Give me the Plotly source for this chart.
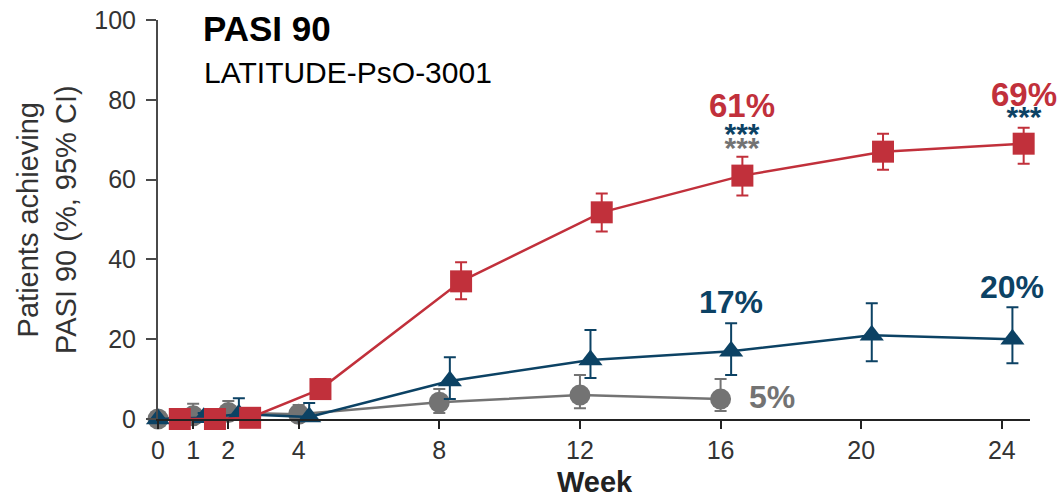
import plotly.graph_objects as go

# Study weeks at which PASI 90 response was assessed
weeks = [0, 1, 2, 4, 8, 12, 16, 20, 24]
weeks_placebo = [0, 1, 2, 4, 8, 12, 16]

# Response rates (%) with 95% CI bounds
deucra_val = [0, 0, 0.3, 7.5, 34.5, 51.8, 61, 67, 69]
deucra_hi = [0, 0, 1.0, 10, 39.3, 56.5, 65.7, 71.5, 73]
deucra_lo = [0, 0, 0, 5.5, 30, 47, 56, 62.5, 64]

apre_val = [0, 0.3, 1.2, 0.5, 9.5, 14.8, 17, 21, 20]
apre_hi = [0, 1.5, 5.2, 4.0, 15.5, 22.3, 24, 29, 28]
apre_lo = [0, 0, 0, 0, 5, 10.3, 11, 14.5, 14]

placebo_val = [0, 0.8, 1.6, 1.2, 4.2, 6, 5]
placebo_hi = [0, 3.8, 4.5, 3.5, 7.5, 11, 10]
placebo_lo = [0, 0, 0, 0, 1.5, 2.7, 2]

RED = "#C1303B"
BLUE = "#0C4264"
GRAY = "#737373"
FONT = "Liberation Sans, Arial, sans-serif"

# horizontal dodge so overlapping groups stay readable
blue_dodge = [0] + [0.3] * (len(weeks) - 1)
red_dodge = 0.62


def err(val, hi, lo):
    return dict(
        type="data",
        array=[h - v for v, h in zip(val, hi)],
        arrayminus=[v - l for v, l in zip(val, lo)],
        thickness=2,
        width=6,
    )


fig = go.Figure()

fig.add_trace(go.Scatter(
    x=weeks_placebo, y=placebo_val, mode="lines+markers",
    line=dict(color=GRAY, width=2.5),
    marker=dict(symbol="circle", size=21, color=GRAY),
    error_y=dict(err(placebo_val, placebo_hi, placebo_lo), color=GRAY),
    cliponaxis=False, showlegend=False,
))

fig.add_trace(go.Scatter(
    x=[w + d for w, d in zip(weeks, blue_dodge)], y=apre_val, mode="lines+markers",
    line=dict(color=BLUE, width=2.5),
    marker=dict(symbol="triangle-up", size=21, color=BLUE),
    error_y=dict(err(apre_val, apre_hi, apre_lo), color=BLUE),
    cliponaxis=False, showlegend=False,
))

fig.add_trace(go.Scatter(
    x=[w + red_dodge for w in weeks], y=deucra_val, mode="lines+markers",
    line=dict(color=RED, width=2.5),
    marker=dict(symbol="square", size=22, color=RED),
    error_y=dict(err(deucra_val, deucra_hi, deucra_lo), color=RED),
    cliponaxis=False, showlegend=False,
))

ann = []


def label(x, y, text, color, size=32, xanchor="center"):
    ann.append(dict(x=x, y=y, xref="x", yref="y", text=f"<b>{text}</b>",
                    showarrow=False, xanchor=xanchor, yanchor="middle",
                    font=dict(family=FONT, size=size, color=color)))


def stacked(x, y, lines, base):
    # value label with significance stars underneath, set as one block;
    # the small base size keeps the rows tightly spaced
    parts = []
    for text, color, size in lines:
        parts.append(f"<span style='font-size:{size}px;color:{color}'><b>{text}</b></span>")
    ann.append(dict(x=x, y=y, xref="x", yref="y", text="<br>".join(parts),
                    showarrow=False, xanchor="center", yanchor="top",
                    font=dict(family=FONT, size=base, color=RED)))


stacked(16 + red_dodge, 83.7,
        [(f"{deucra_val[6]:.0f}%", RED, 33), (" ", RED, 8),
         ("***", BLUE, 30), ("***", GRAY, 30)], base=10.4)
stacked(24 + red_dodge, 86.5,
        [(f"{deucra_val[8]:.0f}%", RED, 33), (" ", RED, 8),
         ("***", BLUE, 30)], base=8.2)
label(16.3, 29.3, f"{apre_val[6]:.0f}%", BLUE)
label(24.3, 33.0, f"{apre_val[8]:.0f}%", BLUE)
label(16.75, 5.5, f"{placebo_val[6]:.0f}%", GRAY, xanchor="left")

# Panel heading
ann.append(dict(x=201, y=29, xref="paper", yref="paper", text="<b>PASI 90</b>",
                showarrow=False, xanchor="left", yanchor="middle",
                font=dict(family=FONT, size=35, color="#000")))
ann.append(dict(x=202, y=72, xref="paper", yref="paper", text="LATITUDE-PsO-3001",
                showarrow=False, xanchor="left", yanchor="middle",
                font=dict(family=FONT, size=30, color="#000")))
# Y axis title
ann.append(dict(x=47, y=220, xref="paper", yref="paper",
                text="Patients achieving<br>PASI 90 (%, 95% CI)",
                showarrow=False, textangle=-90, xanchor="center", yanchor="middle",
                font=dict(family=FONT, size=29, color="#333")))
# X axis title
ann.append(dict(x=595, y=499, xref="paper", yref="paper", text="<b>Week</b>",
                showarrow=False, xanchor="center", yanchor="bottom", borderpad=0,
                font=dict(family=FONT, size=29, color="#222")))

W, H = 1061, 499
L, R, T, B = 158, 31, 20, 80
pw, ph = W - L - R, H - T - B
# convert pixel placement of free text to paper coordinates
for a in ann:
    if a["xref"] == "paper":
        a["x"] = (a["x"] - L) / pw
        a["y"] = 1 - (a["y"] - T) / ph

fig.update_layout(
    width=W, height=H,
    margin=dict(l=L, r=R, t=T, b=B, autoexpand=False),
    paper_bgcolor="white", plot_bgcolor="white",
    font=dict(family=FONT, size=25, color="#333"),
    annotations=ann,
)
fig.update_xaxes(
    range=[0, 24.8], tickmode="array", tickvals=[0, 1, 2, 4, 8, 12, 16, 20, 24],
    showgrid=False, zeroline=False, showline=True, linecolor="#222", linewidth=2,
    ticks="outside", ticklen=8, tickwidth=2, tickcolor="#222",
    tickfont=dict(size=25, color="#333"), automargin=False,
)
fig.update_yaxes(
    range=[0, 100], tickvals=[0, 20, 40, 60, 80, 100],
    showgrid=False, zeroline=False, showline=True, linecolor="#4a4a4a", linewidth=2,
    ticks="outside", ticklen=10, tickwidth=2, tickcolor="#4a4a4a",
    tickfont=dict(size=25, color="#333"), automargin=False, ticklabelstandoff=5,
)

fig.write_html("out.html")
